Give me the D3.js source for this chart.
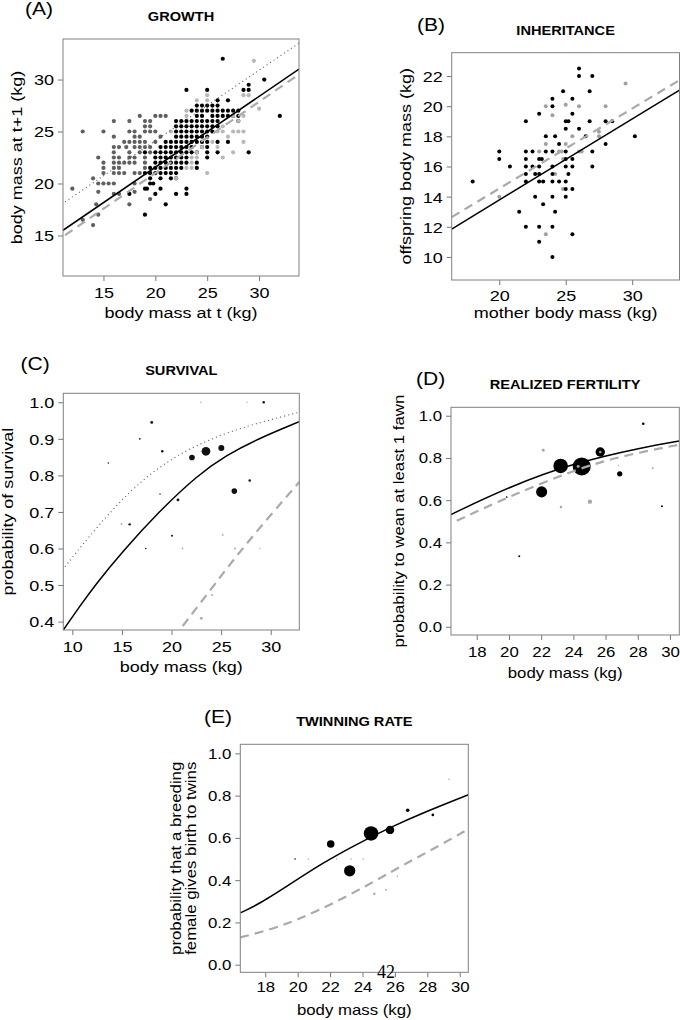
<!DOCTYPE html>
<html>
<head>
<meta charset="utf-8">
<script src="https://cdn.jsdelivr.net/npm/d3@7"></script>
<style>
body { margin: 0; background: #fff; }
text { font-family: "Liberation Sans", Arial, sans-serif; fill: #000; }
</style>
</head>
<body>
<div id="chart"></div>
<script>
width = 680;
height = 1020;

// ---- data ----

// (A) growth: [y, [x values]] rows on the 0.5 kg grid
var growthGray = [
    [26.5, [18.5, 20, 20.5, 21]], [26, [16, 17.5, 19, 19.5]], [25.5, [19, 19.5]],
    [25, [13, 15, 17.5, 18, 19, 19.5, 20]], [24.5, [16, 18, 18.5, 20.5]], [24, [17, 17.5, 18, 18.5, 19, 20]],
    [23.5, [16, 16.5, 17.2, 18, 18.5, 19, 19.5]], [23, [16, 17.5, 18.5, 19.5]],
    [22.5, [14.5, 16, 16.5, 17.5, 18, 19]], [22, [15, 16, 16.5, 17, 17.5, 18, 19]],
    [21.5, [15, 16, 16.5, 19]], [21, [15, 16, 16.5, 17, 18, 18.5, 19.5]],
    [20.5, [14]], [20, [14.5, 15, 15.5, 16, 18]], [19.5, [12]], [19.2, [14.5, 18]],
    [19, [16, 16.5]], [18.5, [19.5]], [18, [14.3, 17.5]], [17, [14.5]], [16.5, [13]], [16, [14]]
];
var growthBlack = [
    [32, [26.5]], [30, [30.5]], [29.5, [29]], [29, [23, 25, 28.5, 29]], [28, [26, 27]],
    [27.5, [24, 24.5, 25, 25.5, 26]], [27, [23.5, 24, 24.5, 25, 25.5, 26, 26.5, 27, 27.5, 28]],
    [26.5, [24, 24.5, 25.5, 26, 26.5, 27, 27.5, 28, 32]], [26, [22, 22.5, 23, 23.5, 24, 24.5, 25, 25.5, 26, 28]],
    [25.5, [22, 22.5, 23, 23.5, 24, 24.5, 25, 25.5, 26]], [25, [22, 22.5, 23, 23.5, 24, 24.5, 25, 25.5]],
    [24.5, [22, 22.5, 23, 23.5, 24, 24.5, 25]], [24, [21, 21.5, 22, 22.5, 23, 23.5, 24, 24.5, 25, 26, 27]],
    [23.5, [20.5, 21, 21.5, 22, 22.5, 23, 23.5, 24.5, 25]],
    [23, [19, 20, 20.5, 21, 21.5, 22, 22.5, 23, 23.5, 24, 25, 26, 29]],
    [22.5, [20, 20.5, 21, 21.5, 22, 22.5, 23, 25]], [22, [20, 20.5, 21, 21.5, 22, 22.5, 23, 24]],
    [21.5, [19.5, 20, 20.5, 21, 21.5, 22, 22.5, 24]], [21, [19, 19.5, 20, 20.5, 21, 21.5, 22]],
    [20.5, [19.5, 20.5, 21.5, 22]], [20, [19.5, 19.8]], [19.5, [19, 19.2, 20.5, 23]],
    [19, [17.5, 20, 22, 23]], [18, [21]], [17, [19]]
];
var growthLight = [
    [31.8, [29.5]], [28.5, [25, 28.5, 29]], [28, [24, 25]], [27.2, [30]], [27, [23]],
    [26.5, [23, 27.5, 28.5]], [26, [28]], [25.5, [26.5]], [25, [21.5, 26, 26.5, 27.5, 28, 28.5]],
    [24.5, [27]], [24, [25.5, 28.5]], [23.5, [24.5, 26]], [23, [24, 27.5]],
    [22.5, [23.5, 24, 26.5]], [22, [23.5]], [21.5, [23, 23.5]], [21, [25]], [20.5, [22]]
];
var growthSolid = [[11.1, 15.5], [33.85, 31.0]];
var growthDashed = [[11.3, 15.03], [33.85, 30.5]];
var growthDotted = [[11.3, 18.23], [33.85, 33.5]];

// (B) inheritance: [mother mass, offspring mass]
var inheritBlack = [
    [18, 15], [20, 17], [20, 16.5], [20.8, 16], [21.5, 13], [22, 19], [22, 17], [22, 16.5], [22, 16],
    [22, 15.5], [22, 15], [22, 12], [22.5, 17], [22.5, 16], [22.7, 14], [22.7, 15.5], [23, 19.5],
    [23, 16.5], [23.2, 16.5], [23, 16], [23, 15.5], [23, 15], [23.3, 15], [23, 12], [23, 11],
    [23.3, 13.5], [23.5, 18], [23.5, 17], [24, 20.5], [24, 20], [24, 17], [24, 16], [24, 15.5],
    [24, 15], [24, 14], [24, 12], [24, 10], [24.2, 13], [24.2, 18], [24.5, 17.5], [24.5, 15],
    [24.8, 21], [25, 19], [25.2, 19], [25, 18.5], [25, 17], [25, 16.5], [25, 16], [25, 15],
    [25, 14.5], [25, 14], [25.2, 15.5], [25.5, 20.5], [25.5, 19.5], [25.5, 16.5], [25.5, 16],
    [25.5, 14.5], [25.5, 11.5], [26, 22.5], [26, 22], [26, 18.5], [26.5, 18], [26.8, 21],
    [26.8, 19], [27, 22], [27, 17], [27, 16], [28, 19], [28.5, 19], [28, 17.5], [30.2, 18]
];
var inheritGray = [
    [20, 14], [23.5, 20], [24, 19.4], [25, 20.1], [26, 20], [29.5, 21.5], [28, 20], [27.5, 18.3],
    [27.5, 18], [23.5, 17.5], [24.5, 17], [24.7, 17], [25, 17.5], [25.5, 18], [26, 17], [23, 17],
    [23.5, 11.5], [24.8, 14.5], [24.2, 15.5], [24.8, 16.5], [26.2, 17]
];
var inheritSolid = [[16.42, 11.85], [33.56, 21.07]];
var inheritDashed = [[16.42, 12.64], [33.56, 21.73]];

// (C) survival: [mass, proportion, n]
var survivalBlack = [
    [18, 0.945, 2], [16.8, 0.9, 0.7], [19.07, 0.866, 1.5], [13.63, 0.834, 0.5], [22.06, 0.849, 8],
    [23.47, 0.866, 19], [25.02, 0.875, 9], [26.33, 0.757, 8], [27.88, 0.786, 1.5], [29.29, 1.0, 1.5],
    [20.65, 0.733, 2], [15.78, 0.666, 1.5], [20.05, 0.635, 1], [17.4, 0.6, 0.6], [18.84, 0.749, 0.5]
];
var survivalGray = [
    [23.0, 0.409, 2], [24.1, 0.473, 1], [25.16, 0.637, 0.8], [26.4, 0.6, 1.2], [21.1, 0.6, 0.8],
    [22.95, 1.0, 0.5], [27.6, 1.0, 0.5], [28.9, 0.6, 0.5], [14.97, 0.667, 0.8]
];
var survivalSolid = [[9.09, 0.377], [10.7, 0.44], [12.3, 0.5], [15, 0.59], [18.8, 0.703], [22.6, 0.8],
    [25.5, 0.855], [28.7, 0.9], [32.88, 0.947]];
var survivalDotted = [[9.26, 0.55], [11.41, 0.624], [15.78, 0.761], [20.15, 0.852], [25.19, 0.916],
    [30.56, 0.957], [32.95, 0.973]];
var survivalDashed = [[21.13, 0.388], [24.3, 0.5], [27.54, 0.615], [32.95, 0.784]];

// (D) realized fertility: [mass, proportion, n]
var fertBlack = [
    [22.03, 0.639, 31], [23.21, 0.762, 53], [24.52, 0.76, 81], [25.67, 0.828, 22], [26.88, 0.725, 7],
    [28.34, 0.962, 1.7], [29.5, 0.571, 1], [20.64, 0.334, 1], [19.86, 0.615, 0.7]
];
var fertGray = [
    [22.13, 0.836, 2.2], [23.23, 0.567, 1.7], [25.03, 0.593, 4.8], [24.3, 0.76, 2.2], [25.67, 0.828, 1.5],
    [28.93, 0.751, 1], [26.8, 0.765, 0.5]
];
var fertSolid = [[16.4, 0.532], [20, 0.663], [24, 0.776], [28.4, 0.852], [30.58, 0.88]];
var fertDashed = [[16.76, 0.502], [20, 0.617], [24, 0.742], [27, 0.81], [30.58, 0.863]];

// (E) twinning rate: [mass, proportion, n]
var twinBlack = [
    [22.04, 0.571, 14], [23.21, 0.444, 32], [24.53, 0.621, 53], [25.7, 0.638, 18], [26.79, 0.731, 3.2],
    [28.34, 0.709, 1.7], [19.84, 0.5, 0.6]
];
var twinGray = [
    [24.73, 0.336, 1.4], [25.45, 0.355, 0.8], [26.15, 0.418, 0.6], [20.66, 0.5, 0.5], [22.41, 0.5, 0.5],
    [24.05, 0.5, 0.5], [23.3, 0.5, 0.5], [29.34, 0.878, 0.6]
];
var twinSolid = [[16.46, 0.245], [17.69, 0.29], [19.55, 0.382], [21.6, 0.484], [23.66, 0.571],
    [25.72, 0.65], [27.78, 0.72], [30.53, 0.804]];
var twinDashed = [[16.46, 0.129], [18.5, 0.17], [20, 0.213], [22.22, 0.29], [24.69, 0.392],
    [26.75, 0.482], [28.81, 0.566], [30.53, 0.642]];

var ticksA = [15, 20, 25, 30];
var ticksBx = [20, 25, 30];
var ticksBy = [10, 12, 14, 16, 18, 20, 22];
var ticksCx = [10, 15, 20, 25, 30];
var ticksCy = [0.4, 0.5, 0.6, 0.7, 0.8, 0.9, 1.0];
var ticksDEx = [18, 20, 22, 24, 26, 28, 30];
var ticksDEy = [0, 0.2, 0.4, 0.6, 0.8, 1.0];

// ---- drawing ----

var svg = d3.select("#chart")
    .append("svg")
    .attr("width", width)
    .attr("height", height);

// text in the figure is wider than Arial, so stretch it along its own direction
function addText(sel, str, x, y, o) {
    o = o || {};
    var t = sel.append("text")
        .attr("transform", "translate(" + x + "," + y + ")" + (o.rotate ? " rotate(" + o.rotate + ")" : "")
            + " scale(" + (o.sx || 1.2) + ",1)")
        .attr("text-anchor", o.anchor || "middle")
        .style("font-size", (o.size || 14) + "px")
        .text(str);
    if (o.bold) t.style("font-weight", "bold");
    if (o.family) t.style("font-family", o.family);
    return t;
}

function flatRows(rows) {
    var out = [];
    rows.forEach(function(r) { r[1].forEach(function(x) { out.push([x, r[0]]); }); });
    return out;
}

var clipId = 0;
function panel(p) {
    var x = d3.scaleLinear().domain(p.xDomain).range([p.left, p.right]);
    var y = d3.scaleLinear().domain(p.yDomain).range([p.bottom, p.top]);
    var g = svg.append("g");

    clipId++;
    svg.append("clipPath").attr("id", "clip" + clipId)
        .append("rect")
        .attr("x", p.left).attr("y", p.top)
        .attr("width", p.right - p.left).attr("height", p.bottom - p.top);
    var inner = g.append("g").attr("clip-path", "url(#clip" + clipId + ")");

    // axes, R style: outward ticks, horizontal labels
    var xAxis = g.append("g")
        .attr("transform", "translate(0," + p.bottom + ")")
        .call(d3.axisBottom(x).tickValues(p.xTicks).tickFormat(p.xFormat || d3.format("d"))
            .tickSize(5).tickSizeOuter(0));
    xAxis.selectAll("text")
        .attr("y", null).attr("dy", null)
        .attr("transform", "translate(0," + p.xLabelDy + ") scale(1.2,1)")
        .style("font-size", p.tickSize + "px")
        .style("font-family", "'Liberation Sans', Arial, sans-serif")
        .attr("fill", "#000");

    var yAxis = g.append("g")
        .attr("transform", "translate(" + p.left + ",0)")
        .call(d3.axisLeft(y).tickValues(p.yTicks).tickFormat(p.yFormat || d3.format("d"))
            .tickSize(5).tickSizeOuter(0));
    yAxis.selectAll("text")
        .attr("x", null).attr("dy", "0.36em")
        .attr("transform", "translate(-9,0) scale(1.2,1)")
        .style("font-size", p.tickSize + "px")
        .style("font-family", "'Liberation Sans', Arial, sans-serif")
        .attr("fill", "#000");

    g.selectAll(".domain").remove();
    g.selectAll(".tick line").attr("stroke", "#777");

    g.append("rect")
        .attr("x", p.left).attr("y", p.top)
        .attr("width", p.right - p.left).attr("height", p.bottom - p.top)
        .attr("fill", "none")
        .attr("stroke", "#808080")
        .attr("stroke-width", 1);

    var cx = (p.left + p.right) / 2;
    var cy = (p.top + p.bottom) / 2;
    addText(g, p.title, cx, p.titleY, {bold: true, size: 13.5, sx: 1.08});
    addText(g, p.letter, p.letterX, p.letterY, {anchor: "start", size: 17.5, sx: 1.2});
    addText(g, p.xTitle, cx, p.xTitleY, {size: p.labelSize});
    p.yTitle.forEach(function(line, i) {
        addText(g, line, p.yTitleX[i], cy, {rotate: -90, size: p.labelSize});
    });

    return {g: inner, x: x, y: y};
}

function drawLine(pn, data, style, curved) {
    var line = d3.line()
        .x(function(d) { return pn.x(d[0]); })
        .y(function(d) { return pn.y(d[1]); });
    // smooth through the read-off points (the fitted curves are smooth)
    if (curved) line.curve(d3.curveBasis);
    var path = pn.g.append("path")
        .datum(data)
        .attr("d", line)
        .attr("fill", "none");
    if (style == "solid") {
        path.attr("stroke", "#000").attr("stroke-width", 1.5);
    } else if (style == "dashed") {
        path.attr("stroke", "#aaaaaa").attr("stroke-width", 2.2).attr("stroke-dasharray", "9,6");
    } else {
        path.attr("stroke", "#555").attr("stroke-width", 1.1).attr("stroke-dasharray", "1,3.2");
    }
}

function drawDots(pn, data, color, r) {
    pn.g.selectAll(null)
        .data(data)
        .enter()
        .append("circle")
        .attr("cx", function(d) { return pn.x(d[0]); })
        .attr("cy", function(d) { return pn.y(d[1]); })
        .attr("r", r)
        .attr("fill", color);
}

var sizeScale = d3.scaleSqrt().domain([0, 100]).range([0, 10]);
function drawBubbles(pn, data, color) {
    pn.g.selectAll(null)
        .data(data)
        .enter()
        .append("circle")
        .attr("cx", function(d) { return pn.x(d[0]); })
        .attr("cy", function(d) { return pn.y(d[1]); })
        .attr("r", function(d) { return sizeScale(d[2]); })
        .attr("fill", color);
}

// (A) GROWTH
var pA = panel({
    left: 63, right: 299, top: 39, bottom: 276,
    xDomain: [11.1, 33.85], yDomain: [11.1, 33.9],
    xTicks: ticksA, yTicks: ticksA, tickSize: 15, xLabelDy: 21.5,
    title: "GROWTH", titleY: 20.7, letter: "(A)", letterX: 25, letterY: 15,
    xTitle: "body mass at t (kg)", xTitleY: 318, labelSize: 15,
    yTitle: ["body mass at t+1 (kg)"], yTitleX: [22]
});
drawDots(pA, flatRows(growthGray), "#5f5f5f", 2.1);
drawDots(pA, flatRows(growthBlack), "#000", 2.1);
drawDots(pA, flatRows(growthLight), "#b8b8b8", 2.1);
drawLine(pA, growthDotted, "dotted");
drawLine(pA, growthDashed, "dashed");
drawLine(pA, growthSolid, "solid");

// (B) INHERITANCE
var pB = panel({
    left: 451.7, right: 679.5, top: 52.7, bottom: 280,
    xDomain: [16.42, 33.56], yDomain: [8.47, 23.55],
    xTicks: ticksBx, yTicks: ticksBy, tickSize: 15, xLabelDy: 21,
    title: "INHERITANCE", titleY: 34.7, letter: "(B)", letterX: 417, letterY: 30.5,
    xTitle: "mother body mass (kg)", xTitleY: 318, labelSize: 15,
    yTitle: ["offspring body mass (kg)"], yTitleX: [411]
});
drawDots(pB, inheritGray, "#a0a0a0", 2);
drawDots(pB, inheritBlack, "#000", 2);
drawLine(pB, inheritDashed, "dashed");
drawLine(pB, inheritSolid, "solid");

// (C) SURVIVAL
var pC = panel({
    left: 63.3, right: 299.3, top: 393.3, bottom: 630,
    xDomain: [9.09, 32.88], yDomain: [0.377, 1.0246],
    xTicks: ticksCx, yTicks: ticksCy, yFormat: d3.format(".1f"), tickSize: 15, xLabelDy: 21.5,
    title: "SURVIVAL", titleY: 375, letter: "(C)", letterX: 20.5, letterY: 370,
    xTitle: "body mass (kg)", xTitleY: 672, labelSize: 15,
    yTitle: ["probability of survival"], yTitleX: [13]
});
drawBubbles(pC, survivalGray, "#aaaaaa");
drawBubbles(pC, survivalBlack, "#111");
drawLine(pC, survivalDotted, "dotted", true);
drawLine(pC, survivalDashed, "dashed", true);
drawLine(pC, survivalSolid, "solid", true);

// (D) REALIZED FERTILITY
var pD = panel({
    left: 451, right: 679.3, top: 407.3, bottom: 635,
    xDomain: [16.4, 30.58], yDomain: [-0.039, 1.04],
    xTicks: ticksDEx, yTicks: ticksDEy, yFormat: d3.format(".1f"), tickSize: 14, xLabelDy: 21.5,
    title: "REALIZED FERTILITY", titleY: 389, letter: "(D)", letterX: 416, letterY: 385,
    xTitle: "body mass (kg)", xTitleY: 677.5, labelSize: 14,
    yTitle: ["probability to wean at least 1 fawn"], yTitleX: [404]
});
drawBubbles(pD, fertBlack, "#000");
drawBubbles(pD, fertGray, "#a8a8a8");
drawLine(pD, fertDashed, "dashed", true);
drawLine(pD, fertSolid, "solid", true);

// (E) TWINNING RATE
var pE = panel({
    left: 240.3, right: 468.3, top: 744.3, bottom: 972.3,
    xDomain: [16.46, 30.53], yDomain: [-0.036, 1.043],
    xTicks: ticksDEx, yTicks: ticksDEy, yFormat: d3.format(".1f"), tickSize: 14, xLabelDy: 19.5,
    title: "TWINNING RATE", titleY: 726, letter: "(E)", letterX: 204, letterY: 723,
    xTitle: "body mass (kg)", xTitleY: 1015, labelSize: 14,
    yTitle: ["probability that a breeding", "female gives birth to twins"], yTitleX: [181, 196]
});
drawBubbles(pE, twinGray, "#a8a8a8");
drawBubbles(pE, twinBlack, "#000");
drawLine(pE, twinDashed, "dashed", true);
drawLine(pE, twinSolid, "solid", true);

// page number of the source document
addText(svg, "42", 386, 977.7, {size: 18, sx: 1, family: "'Liberation Serif', 'Times New Roman', serif"});
</script>
</body>
</html>
